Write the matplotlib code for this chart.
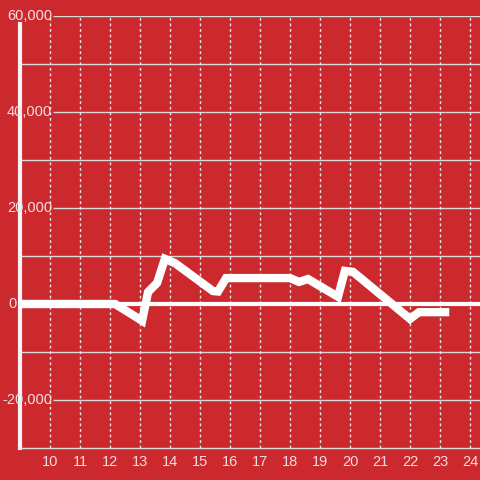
import matplotlib
matplotlib.use("Agg")
import matplotlib.pyplot as plt
import matplotlib.transforms as mtransforms

# data
hours = [9.0, 12.0, 12.17, 13.07, 13.27, 13.57, 13.83, 14.17, 15.43, 15.6,
         15.87, 18.0, 18.3, 18.6, 19.6, 19.83, 20.1, 22.0, 22.3, 23.17]
values = [0, 0, 0, -3500, 2500, 4400, 9400, 8500, 2700, 2600,
          5400, 5400, 4600, 5200, 1500, 6900, 6700, -3100, -1700, -1700]

x_ticks = list(range(10, 25))
y_labels = [60000, 40000, 20000, 0, -20000]
y_grid = list(range(-20000, 60001, 10000))

bg = "#cc292e"
txt = "#f3dcdc"

plt.rcParams["font.family"] = ["Liberation Sans", "DejaVu Sans"]

fig = plt.figure(figsize=(4.8, 4.8), dpi=100, facecolor=bg)
ax = fig.add_axes([20 / 480, 32 / 480, 460 / 480, 432 / 480])
ax.set_facecolor(bg)
x0, x1 = 9, 9 + 460 / 30
ax.set_xlim(x0, x1)
ax.set_ylim(-30000, 60000)

for s in ["top", "right"]:
    ax.spines[s].set_visible(False)
ax.spines["bottom"].set_color("#dddddd")
ax.spines["bottom"].set_linewidth(1)
ax.spines["left"].set_color("#f5f5f5")
ax.spines["left"].set_linewidth(3)
ax.spines["left"].set_bounds(-30000, 58300)

# grid: labelled lines start after their label
for g in y_grid:
    start = x0 + 33 / 30 if g in y_labels else x0
    ax.hlines(g, start, x1, color="#d9d9d9", lw=1, zorder=1)
for t in x_ticks:
    ax.axvline(t, color="#e8e8e8", lw=1, ls=(0, (2, 2)), zorder=1)
ax.axhline(0, color="white", lw=3, zorder=2)

ax.plot(hours, values, color="white", lw=6, solid_joinstyle="miter", zorder=3)

ax.set_xticks(x_ticks)
ax.set_xticklabels([str(t) for t in x_ticks])
ax.tick_params(axis="x", length=0, pad=5, labelsize=10.5, colors=txt)
ax.set_yticks([])

trans = mtransforms.blended_transform_factory(fig.transFigure, ax.transData)
for v in y_labels:
    xr = 17 / 480 if v == 0 else 52 / 480
    ax.text(xr, v, f"{v:,}", transform=trans, ha="right", va="center",
            fontsize=10.5, color=txt, zorder=4, clip_on=False)

fig.savefig("out.png", dpi=100, facecolor=bg)
